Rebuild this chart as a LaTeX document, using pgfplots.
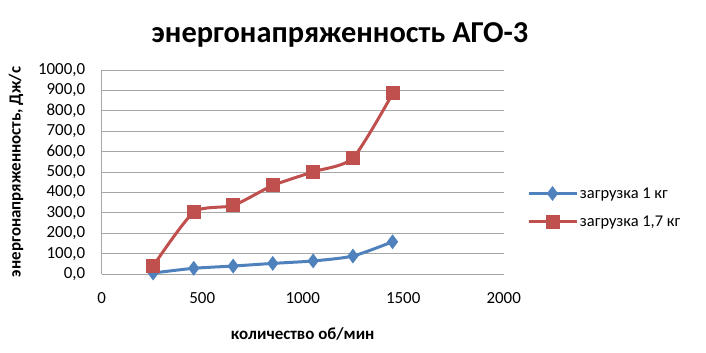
\documentclass[border=0pt]{standalone}
\usepackage{fontspec}
\setmainfont{Carlito}
\usepackage{pgfplots}
\pgfplotsset{compat=1.18}
\definecolor{xblue}{HTML}{4F81BD}
\definecolor{xred}{HTML}{C0504D}
\begin{document}
\begin{tikzpicture}[x=1bp,y=1bp]
\useasboundingbox (0,0) rectangle (706,352);
\node[font=\bfseries\fontsize{30.5}{34}\selectfont] at (340,317) {энергонапряженность АГО-3};
\begin{axis}[
  at={(101.7bp,78bp)}, anchor=south west,
  scale only axis, width=402bp, height=204bp,
  xmin=0, xmax=2000, ymin=0, ymax=1000,
  xtick={0,500,...,2000}, ytick={0,100,...,1000},
  axis lines*=left,
  x axis line style={draw=none},
  y axis line style={draw=gray!70, line width=0.8bp},
  major tick length=0pt,
  ymajorgrids,
  grid style={gray!70, line width=0.8bp},
  tick label style={font=\fontsize{17}{19}\selectfont},
  /pgf/number format/assume math mode=true,
  yticklabel style={/pgf/number format/.cd, fixed, fixed zerofill, precision=1, use comma, 1000 sep={}},
  xticklabel style={/pgf/number format/.cd, fixed, 1000 sep={}},
  yticklabel shift=13bp,
  xticklabel shift=15bp,
  xlabel={количество об/мин},
  ylabel={энергонапряженность, Дж/с},
  label style={font=\bfseries\fontsize{17}{19}\selectfont},
  xlabel style={yshift=-17bp},
  ylabel style={yshift=8bp},
  legend style={at={(1.05,0.326)}, anchor=west, draw=none, fill=none,
    font=\fontsize{16.5}{18}\selectfont, row sep=12bp, cells={anchor=west}},
  legend image code/.code={\draw[mark repeat=2,mark phase=2,#1] plot coordinates {(0bp,0bp) (24bp,0bp) (48bp,0bp)};},
]
\addplot[xblue, line width=3bp, smooth, tension=0.4, mark=diamond*, mark size=5bp, mark options={solid}]
  coordinates {(256,5) (458,28) (654,39) (851,52) (1052,64) (1250,88) (1447,158)};
\addlegendentry{загрузка 1 кг}
\addplot[xred, line width=3bp, smooth, tension=0.4, mark=square*, mark size=5.5bp, mark options={solid}]
  coordinates {(256,39) (458,303) (654,336) (851,434) (1052,501) (1250,569) (1450,889)};
\addlegendentry{загрузка 1,7 кг}
\end{axis}
\end{tikzpicture}
\end{document}
